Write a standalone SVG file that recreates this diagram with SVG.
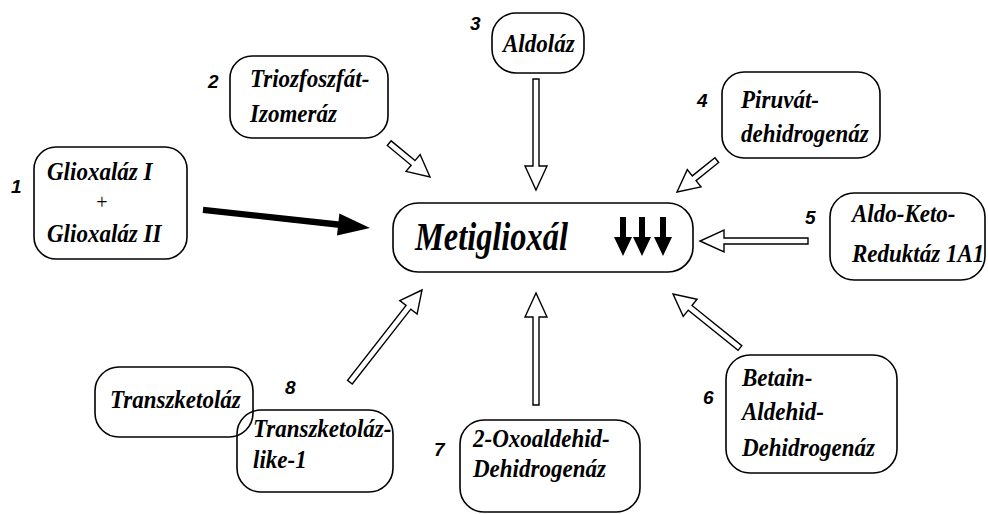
<svg xmlns="http://www.w3.org/2000/svg" width="988" height="514" viewBox="0 0 988 514">
<style>
.box{fill:#fff;stroke:#000;stroke-width:1.6}
.t{font-family:'Liberation Serif','Times New Roman',Times,'DejaVu Serif',serif;font-weight:700;font-style:italic;font-size:26px;fill:#000}
.big{font-size:41px}
.plus{font-family:'Liberation Serif','Times New Roman',serif;font-size:20px;fill:#000}
.n{font-family:'Liberation Sans',Arial,sans-serif;font-weight:700;font-style:italic;font-size:19px;fill:#000}
.ha{fill:#fff;stroke:#000;stroke-width:1.4;stroke-linejoin:miter}
.sa{fill:#000}
</style>
<rect width="988" height="514" fill="#fff"/>
<g id="connectors">
  <g transform="translate(370,228) rotate(6.2)"><rect class="sa" x="-168" y="-3.2" width="140" height="6.4"/><polygon class="sa" points="0,0 -32,-11 -32,11"/></g>
  <g transform="translate(430,177) rotate(39.7)"><polygon class="ha" points="0,0 -22,-11 -22,-3 -53,-3 -53,3 -22,3 -22,11"/></g>
  <g transform="translate(536,190) rotate(90)"><polygon class="ha" points="0,0 -24,-11 -24,-3 -111,-3 -111,3 -24,3 -24,11"/></g>
  <g transform="translate(677,192) rotate(141.3)"><polygon class="ha" points="0,0 -22,-11 -22,-3 -51,-3 -51,3 -22,3 -22,11"/></g>
  <g transform="translate(700,241) rotate(180)"><polygon class="ha" points="0,0 -24,-11 -24,-3 -108,-3 -108,3 -24,3 -24,11"/></g>
  <g transform="translate(673,294) rotate(218.9)"><polygon class="ha" points="0,0 -22,-11 -22,-3 -86,-3 -86,3 -22,3 -22,11"/></g>
  <g transform="translate(536,293) rotate(-90)"><polygon class="ha" points="0,0 -24,-11 -24,-3 -112,-3 -112,3 -24,3 -24,11"/></g>
  <g transform="translate(422,290) rotate(-51.95)"><polygon class="ha" points="0,0 -22,-11 -22,-3 -117,-3 -117,3 -22,3 -22,11"/></g>
</g>
<g id="n1">
  <rect class="box" x="34" y="147" width="153" height="112" rx="22"/>
  <text class="n" x="11" y="193">1</text>
  <text class="t" transform="translate(47,180) scale(.885,1)">Glioxaláz I</text>
  <text class="plus" x="102" y="209" text-anchor="middle">+</text>
  <text class="t" transform="translate(47,242) scale(.885,1)">Glioxaláz II</text>
</g>
<g id="center">
  <rect class="box" x="393" y="203" width="300" height="69" rx="25"/>
  <text class="t big" transform="translate(415,250) scale(.79,1)">Metiglioxál</text>
  <g class="sa">
    <path d="M620,217 h6 v20 h6 l-9,19 l-9,-19 h6 z"/>
    <path d="M639,217 h6 v20 h6 l-9,19 l-9,-19 h6 z"/>
    <path d="M660,217 h6 v20 h6 l-9,19 l-9,-19 h6 z"/>
  </g>
</g>
<g id="n2">
  <rect class="box" x="230" y="56" width="158" height="82" rx="22"/>
  <text class="n" x="208" y="88">2</text>
  <text class="t" transform="translate(250,87) scale(.885,1)">Triozfoszfát-</text>
  <text class="t" transform="translate(250,122) scale(.885,1)">Izomeráz</text>
</g>
<g id="n3">
  <rect class="box" x="492" y="13" width="92" height="60" rx="24"/>
  <text class="n" x="470" y="30">3</text>
  <text class="t" transform="translate(503,52) scale(.885,1)">Aldoláz</text>
</g>
<g id="n4">
  <rect class="box" x="722" y="72" width="158" height="86" rx="22"/>
  <text class="n" x="697" y="107">4</text>
  <text class="t" transform="translate(741,108) scale(.885,1)">Piruvát-</text>
  <text class="t" transform="translate(741,142) scale(.885,1)">dehidrogenáz</text>
</g>
<g id="n5">
  <rect class="box" x="830" y="193" width="155" height="87" rx="24"/>
  <text class="n" x="805" y="224">5</text>
  <text class="t" transform="translate(852,222) scale(.885,1)">Aldo-Keto-</text>
  <text class="t" transform="translate(852,262) scale(.885,1)">Reduktáz 1A1</text>
</g>
<g id="n6">
  <rect class="box" x="726" y="355" width="171" height="118" rx="24"/>
  <text class="n" x="703" y="404">6</text>
  <text class="t" transform="translate(742,386) scale(.885,1)">Betain-</text>
  <text class="t" transform="translate(742,420) scale(.885,1)">Aldehid-</text>
  <text class="t" transform="translate(742,456) scale(.885,1)">Dehidrogenáz</text>
</g>
<g id="n7">
  <rect class="box" x="460" y="420" width="180" height="92" rx="24"/>
  <text class="n" x="434" y="456">7</text>
  <text class="t" transform="translate(473,447) scale(.885,1)">2-Oxoaldehid-</text>
  <text class="t" transform="translate(473,477) scale(.885,1)">Dehidrogenáz</text>
</g>
<g id="n8a">
  <rect class="box" x="95" y="367" width="158" height="70" rx="24"/>
  <text class="t" transform="translate(110,408) scale(.885,1)">Transzketoláz</text>
</g>
<g id="n8b">
  <rect x="237" y="410" width="156" height="82" rx="24" style="fill:none;stroke:#000;stroke-width:1.6"/>
  <text class="n" x="285" y="394">8</text>
  <text class="t" transform="translate(253,437) scale(.885,1)">Transzketoláz-</text>
  <text class="t" transform="translate(253,468) scale(.885,1)">like-1</text>
</g>
</svg>
